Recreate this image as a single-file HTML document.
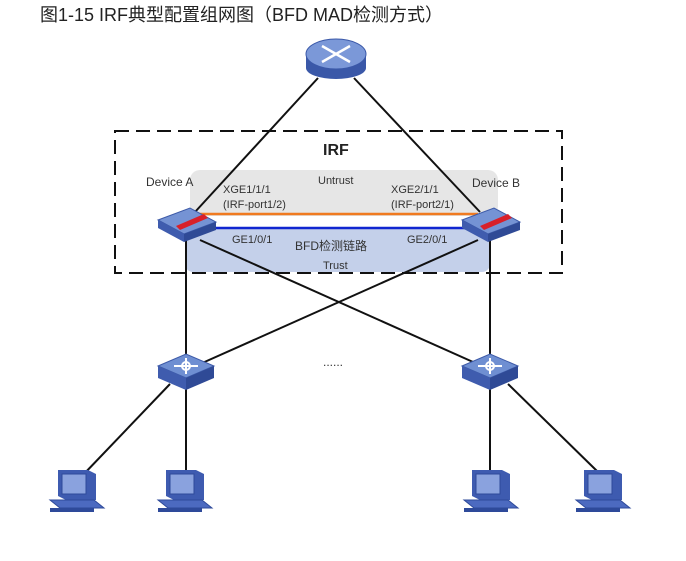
<!DOCTYPE html>
<html><head><meta charset="utf-8"><style>
body{margin:0;background:#fff;width:686px;height:561px;overflow:hidden}
svg{position:absolute;left:0;top:0}
text{font-family:"Liberation Sans","Noto Sans CJK SC",sans-serif}
</style></head><body>
<svg width="686" height="561" viewBox="0 0 686 561">
<defs>
<g id="l3sw">
<polygon points="-28,-6 0,-18 28,-6 0,6" fill="#6f8fd2" stroke="#3d5aa8" stroke-width="1"/>
<polygon points="-28,-6 0,6 0,18 -28,6" fill="#3f5cae"/>
<polygon points="0,6 28,-6 28,6 0,18" fill="#2f4a96"/>
<g stroke="#fff" stroke-width="2" fill="none"><path d="M-12,-6 L12,-6 M0,-14 L0,2"/><circle cx="0" cy="-6" r="4"/></g>
</g>
<g id="pc">
<polygon points="-20,-18 10,-18 18,-14 18,12 -12,12 -20,8" fill="#3e5bb0"/>
<rect x="-16" y="-14" width="24" height="20" fill="#8aa2de" stroke="#2e4a9a"/>
<polygon points="-28,12 16,12 26,20 -18,20" fill="#4c6ac0" stroke="#2e4a9a"/>
<rect x="-28" y="20" width="44" height="4" fill="#2e4a9a"/>
</g>
</defs>
<text x="40" y="21" font-size="18" fill="#222">图1-15 IRF典型配置组网图（BFD MAD检测方式）</text>
<rect x="190" y="170" width="308" height="46" rx="10" fill="#e6e6e6"/>
<rect x="185" y="229" width="305" height="43" rx="8" fill="#c4d0ea"/>
<rect x="115" y="131" width="447" height="142" fill="none" stroke="#111" stroke-width="2" stroke-dasharray="14,7"/>
<g stroke="#111" stroke-width="2">
<line x1="318" y1="78" x2="195" y2="212"/><line x1="354" y1="78" x2="480" y2="212"/>
<line x1="186" y1="238" x2="186" y2="368"/><line x1="490" y1="238" x2="490" y2="368"/>
<line x1="200" y1="240" x2="482" y2="366"/><line x1="478" y1="240" x2="200" y2="364"/>
<line x1="170" y1="384" x2="82" y2="476"/><line x1="186" y1="384" x2="186" y2="470"/>
<line x1="490" y1="384" x2="490" y2="470"/><line x1="508" y1="384" x2="598" y2="472"/>
</g>
<line x1="195" y1="214" x2="478" y2="214" stroke="#f07a20" stroke-width="2.5"/>
<line x1="195" y1="228" x2="478" y2="228" stroke="#1026d0" stroke-width="2.5"/>
<ellipse cx="336" cy="68" rx="30" ry="11" fill="#3a58a8"/>
<rect x="306" y="54" width="60" height="14" fill="#3a58a8"/>
<ellipse cx="336" cy="54" rx="30" ry="15" fill="#7b98d8" stroke="#3a58a8"/>
<g stroke="#fff" stroke-width="2.5"><path d="M322,46 L350,62 M350,46 L322,62"/></g>
<g transform="translate(186,224)">
<polygon points="-28,-4 4,-16 30,-2 -2,10" fill="#7593d4" stroke="#3d5aa8"/>
<polygon points="-28,-4 -2,10 -2,18 -28,4" fill="#3f5cae"/><polygon points="-2,10 30,-2 30,6 -2,18" fill="#2f4a96"/>
<polygon points="-10,2 18,-10 22,-6 -6,6" fill="#d8202a"/>
</g>
<g transform="translate(490,224)">
<polygon points="-28,-4 4,-16 30,-2 -2,10" fill="#7593d4" stroke="#3d5aa8"/>
<polygon points="-28,-4 -2,10 -2,18 -28,4" fill="#3f5cae"/><polygon points="-2,10 30,-2 30,6 -2,18" fill="#2f4a96"/>
<polygon points="-10,2 18,-10 22,-6 -6,6" fill="#d8202a"/>
</g>
<use href="#l3sw" x="186" y="372"/><use href="#l3sw" x="490" y="372"/>
<use href="#pc" x="78" y="488"/><use href="#pc" x="186" y="488"/>
<use href="#pc" x="492" y="488"/><use href="#pc" x="604" y="488"/>
<g fill="#333" font-size="12">
<text x="323" y="155" font-size="16" font-weight="bold" fill="#222">IRF</text>
<text x="146" y="186">Device A</text><text x="472" y="187">Device B</text>
<text x="318" y="184" font-size="11">Untrust</text>
<text x="223" y="193" font-size="11">XGE1/1/1</text><text x="223" y="208" font-size="11">(IRF-port1/2)</text>
<text x="391" y="193" font-size="11">XGE2/1/1</text><text x="391" y="208" font-size="11">(IRF-port2/1)</text>
<text x="232" y="243" font-size="11">GE1/0/1</text><text x="407" y="243" font-size="11">GE2/0/1</text>
<text x="295" y="250">BFD检测链路</text>
<text x="323" y="269" font-size="11">Trust</text>
<text x="323" y="366">......</text>
</g>
</svg>
</body></html>
